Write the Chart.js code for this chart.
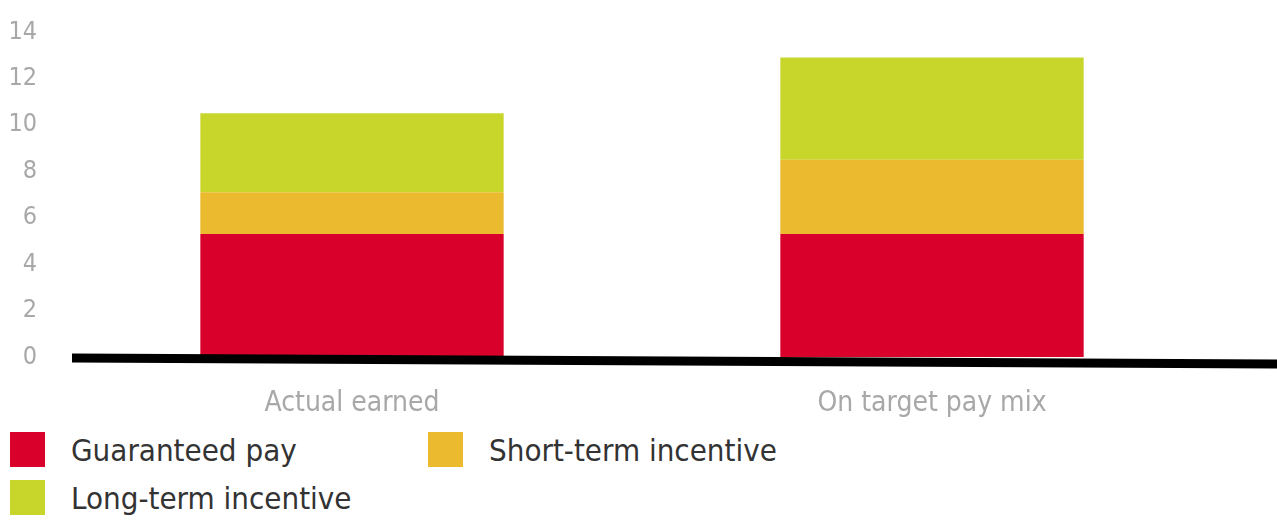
<!DOCTYPE html>
<html>
<head>
<meta charset="utf-8">
<script src="https://cdn.jsdelivr.net/npm/chart.js@4.4.1/dist/chart.umd.min.js"></script>
<style>
    html, body {
        margin: 0;
        padding: 0;
        background: #ffffff;
        width: 1277px;
        height: 520px;
        overflow: hidden;
        font-family: "DejaVu Sans Condensed", "DejaVu Sans", sans-serif;
    }
    #chartBox {
        position: absolute;
        left: 0;
        top: 0;
        width: 1277px;
        height: 420px;
    }
    #legendBox {
        position: absolute;
        left: 10px;
        top: 432px;
        display: grid;
        grid-template-columns: 418px auto;
        row-gap: 13px;
    }
    .legend-item {
        display: flex;
        align-items: center;
        height: 35px;
        font-size: 31px;
        color: #333333;
    }
    .legend-swatch {
        width: 35px;
        height: 35px;
        margin-right: 26px;
    }
</style>
</head>
<body>
<div id="chartBox"><canvas id="barChart"></canvas></div>
<div id="legendBox"></div>

<script>
const categories = ["Actual earned", "On target pay mix"];

const guaranteedPay = [5.3, 5.3];
const shortTermIncentive = [1.8, 3.2];
const longTermIncentive = [3.4, 4.4];

const yTicks = [0, 2, 4, 6, 8, 10, 12, 14];

// thick black base line, a little slanted like the source
const baseLine = {
    id: "baseLine",
    afterDatasetsDraw(chart) {
        const ctx = chart.ctx;
        const y0 = chart.scales.y.getPixelForValue(0);
        ctx.save();
        ctx.strokeStyle = "#000000";
        ctx.lineWidth = 9;
        ctx.beginPath();
        ctx.moveTo(chart.chartArea.left + 10, y0 + 1);
        ctx.lineTo(chart.width, y0 + 7);
        ctx.stroke();
        ctx.restore();
    }
};

const chart = new Chart(
    document.getElementById("barChart"),
    {
        type: "bar",

        data: {
            labels: categories,

            datasets: [{
                label: "Guaranteed pay",
                data: guaranteedPay,
                backgroundColor: "#d9002b"
            }, {
                label: "Short-term incentive",
                data: shortTermIncentive,
                backgroundColor: "#ebba2e"
            }, {
                label: "Long-term incentive",
                data: longTermIncentive,
                backgroundColor: "#c8d62c"
            }]
        },

        options: {
            responsive: true,
            maintainAspectRatio: false,
            animation: false,
            layout: {
                padding: { top: 20, right: 55, left: 0, bottom: 0 }
            },
            datasets: {
                bar: {
                    categoryPercentage: 1,
                    barPercentage: 0.523
                }
            },
            plugins: {
                legend: { display: false },
                tooltip: { enabled: false }
            },
            scales: {
                x: {
                    stacked: true,
                    grid: { display: false },
                    border: { display: false },
                    ticks: {
                        color: "#a8a8a8",
                        padding: 22,
                        font: {
                            family: "DejaVu Sans Condensed",
                            size: 28
                        }
                    },
                    afterFit(scale) {
                        scale.height = 63;
                    }
                },
                y: {
                    stacked: true,
                    min: 0,
                    max: 14,
                    grid: { display: false },
                    border: { display: false },
                    afterBuildTicks(scale) {
                        scale.ticks = yTicks.map(v => ({ value: v }));
                    },
                    ticks: {
                        color: "#a8a8a8",
                        padding: 17,
                        font: {
                            family: "DejaVu Sans Condensed",
                            size: 25
                        }
                    },
                    afterFit(scale) {
                        scale.width = 62;
                    }
                }
            }
        },

        plugins: [baseLine]
    }
);

// html legend, two columns like the source
const legendBox = document.getElementById("legendBox");

chart.data.datasets.forEach(ds => {
    let item = document.createElement("div");
    item.className = "legend-item";

    let swatch = document.createElement("span");
    swatch.className = "legend-swatch";
    swatch.style.background = ds.backgroundColor;

    let text = document.createElement("span");
    text.textContent = ds.label;

    item.appendChild(swatch);
    item.appendChild(text);
    legendBox.appendChild(item);
});
</script>
</body>
</html>
